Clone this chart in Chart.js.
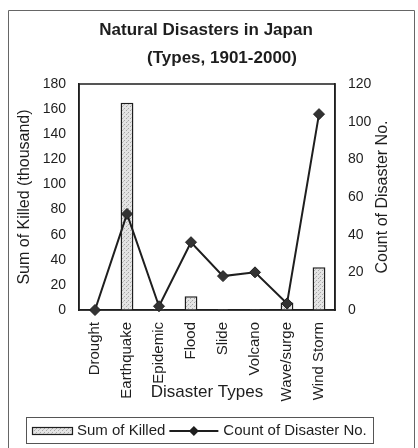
<!DOCTYPE html>
<html>
<head>
<meta charset="utf-8">
<title>Natural Disasters in Japan</title>
<script src="https://cdn.jsdelivr.net/npm/chart.js@4.4.1/dist/chart.umd.min.js"></script>
<style>
  html, body { margin: 0; padding: 0; background: #fff; }
  #wrap { width: 418px; height: 448px; position: relative; }
</style>
</head>
<body>
<div id="wrap"><canvas id="chart"></canvas></div>
<script>
// --- data ---
const categories = ['Drought', 'Earthquake', 'Epidemic', 'Flood', 'Slide', 'Volcano', 'Wave/surge', 'Wind Storm'];
const sumKilled = [0, 165, 0, 11, 0.6, 0.4, 6, 34];      // thousand
const disasterCount = [0, 51, 2, 36, 18, 20, 3.5, 104];
const titleLines = ['Natural Disasters in Japan', '(Types, 1901-2000)'];
const rightAxisTitle = 'Count of Disaster No.';

const FONT = '"Liberation Sans", Arial, sans-serif';
const INK = '#1e1e1e';

// stippled gray fill like the printed bars
function stipple() {
    const c = document.createElement('canvas');
    c.width = 4; c.height = 4;
    const g = c.getContext('2d');
    g.fillStyle = '#e4e4e4';
    g.fillRect(0, 0, 4, 4);
    g.fillStyle = '#a8a8a8';
    g.fillRect(0, 0, 1, 1);
    g.fillRect(2, 2, 1, 1);
    g.fillStyle = '#c4c4c4';
    g.fillRect(3, 1, 1, 1);
    return g.createPattern(c, 'repeat');
}
const barFill = stipple();

// page frame + plot frame + title + right axis title (reads bottom-to-top like the left one)
const framePlugin = {
    id: 'frame',
    beforeDraw(chart) {
        const { ctx, chartArea: a } = chart;
        ctx.save();
        ctx.strokeStyle = '#666';
        ctx.lineWidth = 1;
        ctx.beginPath();
        ctx.moveTo(8.5, 448);
        ctx.lineTo(8.5, 10.5);
        ctx.lineTo(414.5, 10.5);
        ctx.lineTo(414.5, 448);
        ctx.stroke();

        ctx.strokeStyle = INK;
        ctx.lineWidth = 1.5;
        ctx.strokeRect(a.left, a.top, a.right - a.left, a.bottom - a.top);

        ctx.fillStyle = INK;
        ctx.font = 'bold 17px ' + FONT;
        ctx.textAlign = 'center';
        ctx.textBaseline = 'middle';
        ctx.fillText(titleLines[0], 206, 30);
        ctx.fillText(titleLines[1], 222, 58);

        const r = chart.scales.y1;
        ctx.font = '16px ' + FONT;
        ctx.translate(r.right - 25, (a.top + a.bottom) / 2);
        ctx.rotate(-Math.PI / 2);
        ctx.fillText(rightAxisTitle, 0, 0);
        ctx.restore();
    }
};

// boxed legend at the bottom: swatch + line with diamond
const legendPlugin = {
    id: 'boxLegend',
    afterDraw(chart) {
        const { ctx } = chart;
        const ds = chart.data.datasets;
        const y = 431;
        ctx.save();
        ctx.strokeStyle = '#555';
        ctx.lineWidth = 1;
        ctx.strokeRect(26.5, 417.5, 347, 26);

        ctx.font = '15px ' + FONT;
        ctx.textBaseline = 'middle';
        ctx.textAlign = 'left';

        let x = 32;
        ctx.fillStyle = barFill;
        ctx.fillRect(x, y - 4, 41, 8);
        ctx.strokeStyle = INK;
        ctx.lineWidth = 1.2;
        ctx.strokeRect(x + 0.5, y - 3.5, 40, 7);
        x += 45;
        ctx.fillStyle = INK;
        ctx.fillText(ds[1].label, x, y);
        x += ctx.measureText(ds[1].label).width + 4;

        ctx.lineWidth = 2;
        ctx.beginPath();
        ctx.moveTo(x, y);
        ctx.lineTo(x + 49, y);
        ctx.stroke();
        const cx = x + 24.5;
        ctx.beginPath();
        ctx.moveTo(cx, y - 5);
        ctx.lineTo(cx + 5, y);
        ctx.lineTo(cx, y + 5);
        ctx.lineTo(cx - 5, y);
        ctx.closePath();
        ctx.fill();
        x += 54;
        ctx.fillText(ds[0].label, x, y);
        ctx.restore();
    }
};

const tickFont = { family: FONT, size: 14 };
const axisTitleFont = { family: FONT, size: 16 };

new Chart(document.getElementById('chart'), {
    data: {
        labels: categories,
        datasets: [
            {
                type: 'line',
                label: 'Count of Disaster No.',
                data: disasterCount,
                yAxisID: 'y1',
                order: 0,
                borderColor: INK,
                borderWidth: 2,
                pointStyle: 'rectRot',
                pointRadius: 5.5,
                pointBackgroundColor: '#333',
                pointBorderColor: INK,
                pointBorderWidth: 1,
                tension: 0,
                clip: false
            },
            {
                type: 'bar',
                label: 'Sum of Killed',
                data: sumKilled,
                yAxisID: 'y',
                order: 1,
                backgroundColor: barFill,
                borderColor: INK,
                borderWidth: 1.5,
                barPercentage: 0.4,
                categoryPercentage: 1,
                minBarLength: 1
            }
        ]
    },
    options: {
        responsive: true,
        maintainAspectRatio: false,
        animation: false,
        layout: { padding: { left: 9, right: 10, top: 84, bottom: 38 } },
        plugins: {
            legend: { display: false },
            title: { display: false },
            tooltip: { enabled: false }
        },
        scales: {
            x: {
                offset: true,
                grid: { display: false, drawTicks: false },
                border: { display: true, color: INK, width: 1.5 },
                ticks: {
                    color: INK, font: { family: FONT, size: 15 },
                    minRotation: 90, maxRotation: 90, padding: 12, autoSkip: false
                },
                title: {
                    display: true, text: 'Disaster Types', color: INK,
                    font: { family: FONT, size: 17 }, padding: { top: 0, bottom: 7 }
                },
                afterFit(s) { s.height = 100; }
            },
            y: {
                position: 'left',
                min: 0, max: 180,
                ticks: { stepSize: 20, color: INK, font: tickFont, padding: 13 },
                grid: { drawOnChartArea: false, drawTicks: false },
                border: { display: true, color: INK, width: 1.5 },
                title: {
                    display: true, text: 'Sum of Killed (thousand)', color: INK,
                    font: axisTitleFont, padding: { top: 6, bottom: 0 }
                },
                afterFit(s) { s.width = 70; }
            },
            y1: {
                position: 'right',
                min: 0, max: 120,
                ticks: { stepSize: 20, color: INK, font: tickFont, padding: 13 },
                grid: { drawOnChartArea: false, drawTicks: false },
                border: { display: true, color: INK, width: 1.5 },
                afterFit(s) { s.width = 73; }
            }
        }
    },
    plugins: [framePlugin, legendPlugin]
});
</script>
</body>
</html>
